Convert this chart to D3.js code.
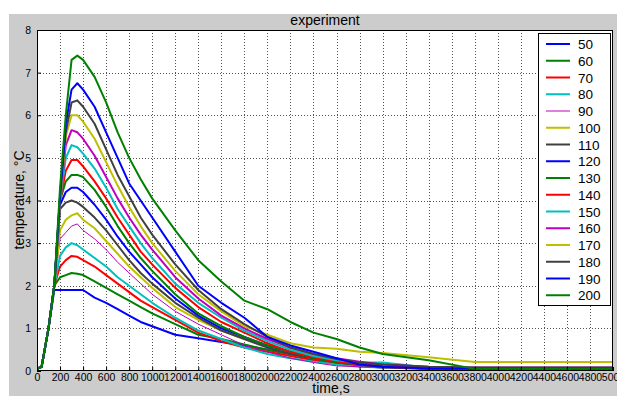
<!DOCTYPE html>
<html lang="en">
<head>
<meta charset="UTF-8">
<title>experiment</title>
<script src="https://cdn.jsdelivr.net/npm/d3@7/dist/d3.min.js"></script>
<style>
  body { margin: 0; background: #fff; }
  text { font-family: "Liberation Sans", Arial, sans-serif; }
</style>
</head>
<body>
<svg id="chart" width="617" height="396"></svg>
<script>
// sample times (s)
var times = [0, 40, 100, 150, 200, 250, 300, 350, 400, 500, 600, 700, 800, 900, 1000,
             1200, 1400, 1600, 1800, 2000, 2200, 2400, 2600, 2800, 3000, 3400, 3800, 4200, 5000];

var names = ["50", "60", "70", "80", "90", "100", "110", "120", "130", "140", "150", "160", "170", "180", "190", "200"];

// temperature
var s50  = [.05, .1, 1.0, 1.9, 1.9, 1.9, 1.9, 1.9, 1.9, 1.72, 1.6, 1.45, 1.3, 1.15, 1.05, .85, .77, .68, .6, .5, .4, .3, .2, .12, .08, .05, .05, .05, .05];
var s60  = [.05, .1, 1.0, 2.0, 2.2, 2.25, 2.3, 2.28, 2.25, 2.1, 1.95, 1.8, 1.65, 1.5, 1.35, 1.1, .85, .75, .62, .5, .4, .3, .2, .15, .1, .06, .05, .05, .05];
var s70  = [.05, .1, 1.0, 2.0, 2.45, 2.6, 2.7, 2.68, 2.6, 2.45, 2.25, 2.05, 1.85, 1.65, 1.5, 1.2, .9, .7, .55, .45, .35, .25, .18, .12, .08, .06, .05, .05, .05];
var s80  = [.05, .1, 1.0, 2.0, 2.7, 2.9, 3.0, 2.95, 2.85, 2.65, 2.45, 2.2, 2.0, 1.8, 1.6, 1.25, .95, .75, .55, .4, .3, .22, .15, .1, .08, .06, .05, .05, .05];
var s90  = [.05, .1, 1.0, 2.0, 3.1, 3.25, 3.4, 3.45, 3.3, 3.1, 2.85, 2.55, 2.3, 2.05, 1.8, 1.4, 1.1, .85, .6, .45, .3, .2, .12, .1, .08, .06, .05, .05, .05];
var s100 = [.05, .1, 1.0, 2.0, 3.3, 3.55, 3.65, 3.7, 3.55, 3.35, 3.05, 2.75, 2.45, 2.2, 1.95, 1.5, 1.2, .95, .75, .6, .45, .33, .24, .18, .12, .08, .05, .05, .05];
var s110 = [.05, .1, 1.0, 2.0, 3.8, 3.95, 4.0, 3.95, 3.85, 3.6, 3.3, 2.95, 2.6, 2.3, 2.05, 1.6, 1.25, .95, .75, .55, .4, .3, .2, .14, .1, .06, .05, .05, .05];
var s120 = [.05, .1, 1.0, 2.0, 3.9, 4.2, 4.3, 4.3, 4.2, 3.9, 3.55, 3.15, 2.8, 2.5, 2.2, 1.7, 1.3, 1.0, .8, .6, .45, .32, .22, .15, .1, .06, .05, .05, .05];
var s130 = [.05, .1, 1.0, 2.0, 4.0, 4.45, 4.6, 4.6, 4.55, 4.25, 3.85, 3.4, 3.0, 2.65, 2.35, 1.8, 1.35, 1.05, .8, .6, .45, .3, .2, .15, .1, .06, .05, .05, .05];
var s140 = [.05, .1, 1.0, 2.0, 4.0, 4.7, 4.95, 4.95, 4.8, 4.45, 4.05, 3.6, 3.2, 2.8, 2.5, 1.95, 1.5, 1.15, .9, .65, .45, .32, .22, .15, .1, .06, .05, .05, .05];
var s150 = [.05, .1, 1.0, 2.0, 4.0, 5.0, 5.3, 5.25, 5.1, 4.75, 4.3, 3.8, 3.4, 3.0, 2.65, 2.05, 1.6, 1.25, .95, .7, .5, .35, .25, .2, .2, .08, .05, .05, .05];
var s160 = [.05, .1, 1.0, 2.0, 4.0, 5.3, 5.65, 5.6, 5.45, 5.05, 4.55, 4.05, 3.6, 3.2, 2.85, 2.2, 1.7, 1.3, 1.0, .75, .55, .4, .3, .22, .15, .1, .08, .08, .08];
var s170 = [.05, .1, 1.0, 2.0, 4.0, 5.5, 6.0, 6.0, 5.85, 5.45, 4.9, 4.35, 3.85, 3.4, 3.0, 2.35, 1.8, 1.4, 1.05, .85, .65, .55, .52, .45, .42, .32, .21, .21, .21];
var s180 = [.05, .1, 1.0, 2.0, 4.1, 5.6, 6.3, 6.35, 6.2, 5.8, 5.2, 4.6, 4.1, 3.6, 3.2, 2.5, 1.9, 1.45, 1.1, .8, .55, .4, .28, .2, .15, .1, .08, .08, .08];
var s190 = [.05, .1, 1.0, 2.0, 4.1, 5.8, 6.6, 6.75, 6.6, 6.2, 5.6, 5.0, 4.4, 4.0, 3.6, 2.8, 2.0, 1.6, 1.25, .8, .6, .45, .3, .15, .1, .06, .05, .05, .05];
var s200 = [.05, .1, 1.0, 2.0, 4.3, 6.0, 7.3, 7.4, 7.3, 6.9, 6.3, 5.6, 5.0, 4.5, 4.05, 3.3, 2.6, 2.1, 1.65, 1.45, 1.15, .9, .75, .55, .4, .25, .05, .05, .05];

var allSeries = [s50, s60, s70, s80, s90, s100, s110, s120, s130, s140, s150, s160, s170, s180, s190, s200];

var xTicks = d3.range(0, 5001, 200);
var yTicks = [0, 1, 2, 3, 4, 5, 6, 7, 8];

// matlab colour order
var colors = ["#0000ff", "#008000", "#ff0000", "#00bfbf", "#bf00bf", "#bfbf00", "#404040"];

var svg = d3.select("#chart");
var pLeft = 37, pTop = 30, pRight = 613, pBottom = 371;

// grey figure background
svg.append("rect").attr("x", 9).attr("y", 14).attr("width", 608).attr("height", 382).attr("fill", "#cccccc");

var x = d3.scaleLinear().domain([0, 5000]).range([pLeft, pRight]);
var y = d3.scaleLinear().domain([0, 8]).range([pBottom, pTop]);

svg.append("rect")
    .attr("x", pLeft).attr("y", pTop)
    .attr("width", pRight - pLeft).attr("height", pBottom - pTop)
    .attr("fill", "#fff");

// grid
svg.append("g").selectAll("line").data(xTicks.slice(1, -1)).enter().append("line")
    .attr("x1", d => Math.round(x(d)) + 0.5).attr("x2", d => Math.round(x(d)) + 0.5)
    .attr("y1", pTop).attr("y2", pBottom)
    .attr("stroke", "#555").attr("stroke-width", 1).attr("stroke-dasharray", "1,2");
svg.append("g").selectAll("line").data(yTicks.slice(1, -1)).enter().append("line")
    .attr("x1", pLeft).attr("x2", pRight)
    .attr("y1", d => Math.round(y(d)) + 0.5).attr("y2", d => Math.round(y(d)) + 0.5)
    .attr("stroke", "#555").attr("stroke-width", 1).attr("stroke-dasharray", "1,2");

svg.append("clipPath").attr("id", "clip").append("rect")
    .attr("x", pLeft).attr("y", pTop).attr("width", pRight - pLeft).attr("height", pBottom - pTop);

var line = d3.line()
    .x((d, i) => x(times[i]))
    .y(d => y(d));

svg.append("g").attr("clip-path", "url(#clip)")
    .selectAll("path").data(allSeries).enter().append("path")
    .attr("d", line)
    .attr("fill", "none")
    .attr("stroke", (d, i) => colors[i % 7])
    .attr("stroke-width", (d, i) => i == 4 ? 1 : 2)
    .attr("stroke-linejoin", "round");

// axes
var xAxis = d3.axisBottom(x).tickValues(xTicks).tickFormat(d3.format("d")).tickSize(-4).tickPadding(3);
var yAxis = d3.axisLeft(y).tickValues(yTicks).tickFormat(d3.format("d")).tickSize(-4).tickPadding(6);

var gx = svg.append("g").attr("transform", "translate(0," + pBottom + ")").call(xAxis);
var gy = svg.append("g").attr("transform", "translate(" + pLeft + ",0)").call(yAxis);
[gx, gy].forEach(function(g) {
    g.select(".domain").remove();
    g.selectAll("line").attr("stroke", "#000");
    g.selectAll("text").attr("font-size", "10.5px").attr("fill", "#000")
        .style("font-family", "'Liberation Sans', Arial, sans-serif");
});

svg.append("rect")
    .attr("x", pLeft + 0.5).attr("y", pTop + 0.5)
    .attr("width", pRight - pLeft - 1).attr("height", pBottom - pTop - 1)
    .attr("fill", "none").attr("stroke", "#000");

// labels
svg.append("text").attr("x", 325).attr("y", 25).attr("text-anchor", "middle")
    .attr("font-size", "14px").text("experiment");
svg.append("text").attr("x", 331).attr("y", 393).attr("text-anchor", "middle")
    .attr("font-size", "14px").text("time,s");
svg.append("text").attr("transform", "translate(24,200) rotate(-90)").attr("text-anchor", "middle")
    .attr("font-size", "14px").text("temperature, °C");

// legend
var legend = svg.append("g");
legend.append("rect").attr("x", 538.5).attr("y", 33.5).attr("width", 72).attr("height", 272)
    .attr("fill", "#fff").attr("stroke", "#000");
var item = legend.selectAll("g.item").data(names).enter().append("g").attr("class", "item")
    .attr("transform", (d, i) => "translate(0," + (44 + i * 16.75) + ")");
item.append("line").attr("x1", 546).attr("x2", 570).attr("y1", 0).attr("y2", 0)
    .attr("stroke", (d, i) => colors[i % 7])
    .attr("stroke-width", (d, i) => i == 4 ? 1 : 2);
item.append("text").attr("x", 578).attr("y", 5).attr("font-size", "13.5px").text(d => d);
</script>
</body>
</html>
